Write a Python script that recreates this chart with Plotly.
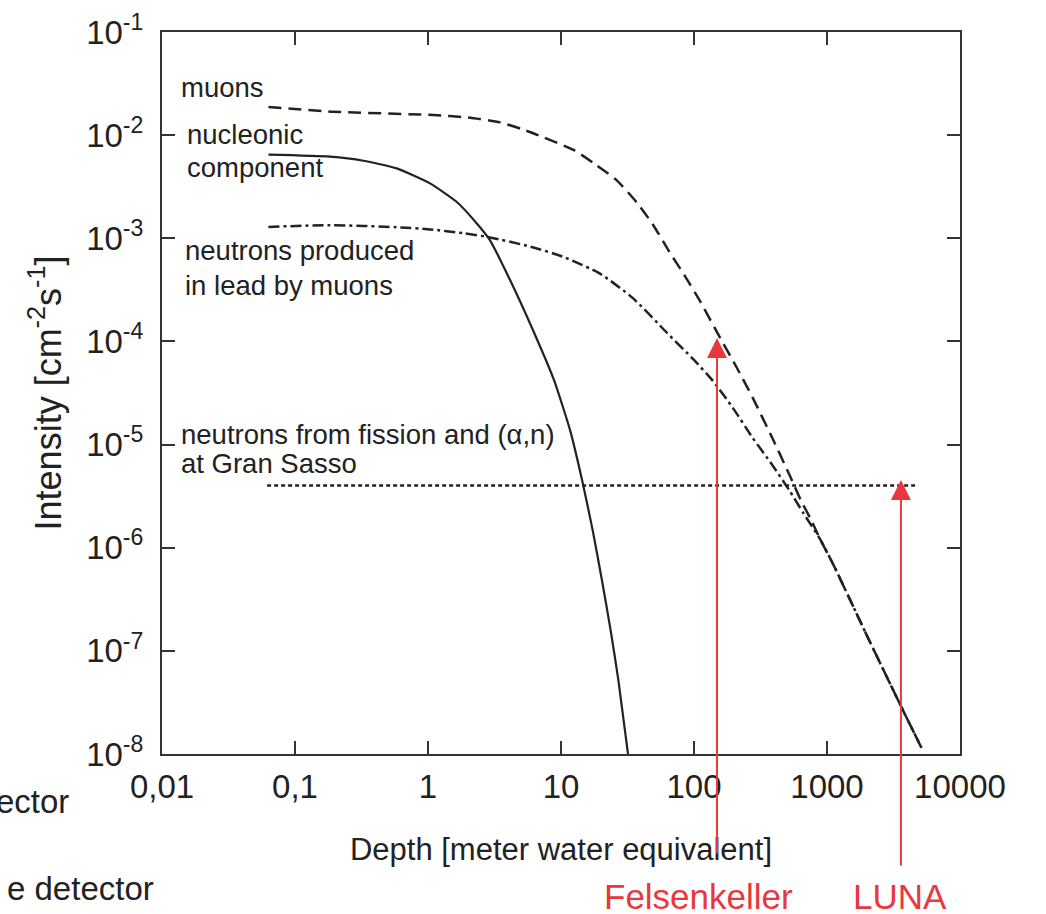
import plotly.graph_objects as go
import math

# ---------------- data ----------------
muon_depth = [0.0631, 0.193, 1.096, 2.0, 3.48, 5.01, 6.38, 12.5, 17.7, 25.8, 37.1, 49.4, 64.1, 85.5,
              110, 158, 209, 275, 389, 525, 631, 759, 891, 1122, 1995, 3548, 5129]
muon_flux = [1.875e-2, 1.687e-2, 1.567e-2, 1.48e-2, 1.33e-2, 1.15e-2, 1.026e-2, 7.16e-3, 5.32e-3,
             3.72e-3, 2.23e-3, 1.34e-3, 7.69e-4, 4.30e-4, 2.51e-4, 1.07e-4, 5.62e-5, 2.88e-5,
             1.15e-5, 5.01e-6, 2.95e-6, 1.86e-6, 1.20e-6, 6.76e-7, 1.41e-7, 3.02e-8, 1.15e-8]

nucl_depth = [0.0631, 0.183, 0.327, 0.582, 1.035, 1.64, 2.32, 2.92, 4.14, 6.15, 8.85,
              11.7, 14.4, 17.3, 20.3, 23.6, 27.0, 31.9]
nucl_flux = [6.46e-3, 6.18e-3, 5.65e-3, 4.76e-3, 3.41e-3, 2.26e-3, 1.40e-3, 9.6e-4, 3.94e-4,
             1.29e-4, 4.23e-5, 1.38e-5, 4.53e-6, 1.48e-6, 4.86e-7, 1.59e-7, 5.21e-8, 1.0e-8]

lead_depth = [0.0631, 0.183, 0.582, 1.035, 1.85, 2.92, 5.85, 10.4, 19.5, 34.7, 63.1, 100,
              138, 195, 275, 389, 525, 661, 891, 1122, 1995, 3548, 5129]
lead_flux = [1.29e-3, 1.34e-3, 1.28e-3, 1.22e-3, 1.12e-3, 1.02e-3, 8.32e-4, 6.61e-4, 4.57e-4,
             2.63e-4, 1.20e-4, 6.61e-5, 4.17e-5, 2.29e-5, 1.17e-5, 6.31e-6, 3.55e-6, 2.19e-6,
             1.20e-6, 6.76e-7, 1.41e-7, 3.02e-8, 1.15e-8]

fission_depth = [0.0617, 4750]
fission_flux = [4.0e-6, 4.0e-6]

sites = ["Felsenkeller", "LUNA"]
site_depth = [149, 3597]
site_flux = [1.08e-4, 4.53e-6]

x_tickvals = [0.01, 0.1, 1, 10, 100, 1000, 10000]
x_ticktext = ["0,01", "0,1", "1", "10", "100", "1000", "10000"]
y_exponents = [-1, -2, -3, -4, -5, -6, -7, -8]

# ---------------- figure ----------------
W, H = 1046, 914
ML, MR, MT, MB = 162, 86, 32, 160
PW, PH = W - ML - MR, H - MT - MB
FONT = "Liberation Sans, Arial, Helvetica, sans-serif"
INK = "#222222"
RED = "#e8383d"

fig = go.Figure()
fig.add_trace(go.Scatter(x=muon_depth, y=muon_flux, mode="lines", name="muons",
                         line=dict(color=INK, width=2.5, dash="13px,7px", shape="spline", smoothing=0.6)))
fig.add_trace(go.Scatter(x=nucl_depth, y=nucl_flux, mode="lines", name="nucleonic component",
                         line=dict(color=INK, width=2.2, shape="spline", smoothing=0.5)))
fig.add_trace(go.Scatter(x=lead_depth, y=lead_flux, mode="lines", name="neutrons produced in lead by muons",
                         line=dict(color=INK, width=2.5, dash="11px,4px,3px,4px", shape="spline", smoothing=0.6)))
fig.add_trace(go.Scatter(x=fission_depth, y=fission_flux, mode="lines", name="neutrons from fission",
                         line=dict(color=INK, width=2.5, dash="4px,3px")))


def px_to_paper_x(px):
    return (px - ML) / PW


def px_to_paper_y(py):
    return (H - MB - py) / PH


labels = [
    ("muons", 179, 87),
    ("nucleonic", 185, 135),
    ("component", 185, 168),
    ("neutrons produced", 183, 250),
    ("in lead by muons", 183, 285),
    ("neutrons from fission and (\u03b1,n)", 179, 434),
    ("at Gran Sasso", 179, 463),
]
annotations = []
for txt, lx, cy in labels:
    annotations.append(dict(text=txt, xref="paper", yref="paper", x=px_to_paper_x(lx), y=px_to_paper_y(cy),
                            xanchor="left", yanchor="middle", showarrow=False,
                            font=dict(family=FONT, size=27.5, color=INK)))

# red arrows for the laboratories
tails = [855, 867]
label_shift = [-19, -1]
for name, d, f, tail, sh in zip(sites, site_depth, site_flux, tails, label_shift):
    tip_px = MT + (-1 - math.log10(f)) / 7 * PH
    annotations.append(dict(text="", x=math.log10(d), y=math.log10(f), xref="x", yref="y",
                            showarrow=True, arrowhead=2, arrowsize=2, arrowwidth=2, arrowcolor=RED,
                            ax=0, ay=tail - tip_px, standoff=0))
    annotations.append(dict(text=name, x=math.log10(d), xref="x", y=px_to_paper_y(896), yref="paper",
                            xanchor="center", yanchor="middle", showarrow=False, xshift=sh,
                            font=dict(family=FONT, size=35, color=RED)))

# cropped slide text on the left
annotations.append(dict(text="ector", xref="paper", yref="paper", x=px_to_paper_x(71), y=px_to_paper_y(801),
                        xanchor="right", yanchor="middle", showarrow=False,
                        font=dict(family=FONT, size=33, color=INK)))
annotations.append(dict(text="e detector", xref="paper", yref="paper", x=px_to_paper_x(156), y=px_to_paper_y(888),
                        xanchor="right", yanchor="middle", showarrow=False,
                        font=dict(family=FONT, size=33, color=INK)))

axis_common = dict(ticks="inside", ticklen=13, tickwidth=2, tickcolor="#333333",
                   showline=True, linewidth=2, linecolor="#333333", mirror="ticks",
                   showgrid=False, zeroline=False)

fig.update_xaxes(type="log", range=[-2.0001, 4.0001], tickvals=x_tickvals, ticktext=x_ticktext,
                 tickfont=dict(family=FONT, size=33, color=INK), ticklabelstandoff=2,
                 title=dict(text="Depth [meter water equivalent]", font=dict(family=FONT, size=31, color=INK),
                            standoff=35),
                 **axis_common)
fig.update_yaxes(type="log", range=[-8.0001, -0.9999], tickvals=[10 ** e for e in y_exponents],
                 ticktext=["10<sup>%d</sup>" % e for e in y_exponents],
                 tickfont=dict(family=FONT, size=33, color=INK), ticklabelstandoff=10,
                 title=dict(text="Intensity [cm<sup>-2</sup>s<sup>-1</sup>]",
                            font=dict(family=FONT, size=36, color=INK), standoff=14),
                 **axis_common)

fig.update_layout(width=W, height=H, margin=dict(l=ML, r=MR, t=MT, b=MB, autoexpand=False),
                  plot_bgcolor="white", paper_bgcolor="white", showlegend=False,
                  annotations=annotations)

fig.write_html("out.html", config={"displayModeBar": False},
               post_script="document.body.style.margin='0px';")
